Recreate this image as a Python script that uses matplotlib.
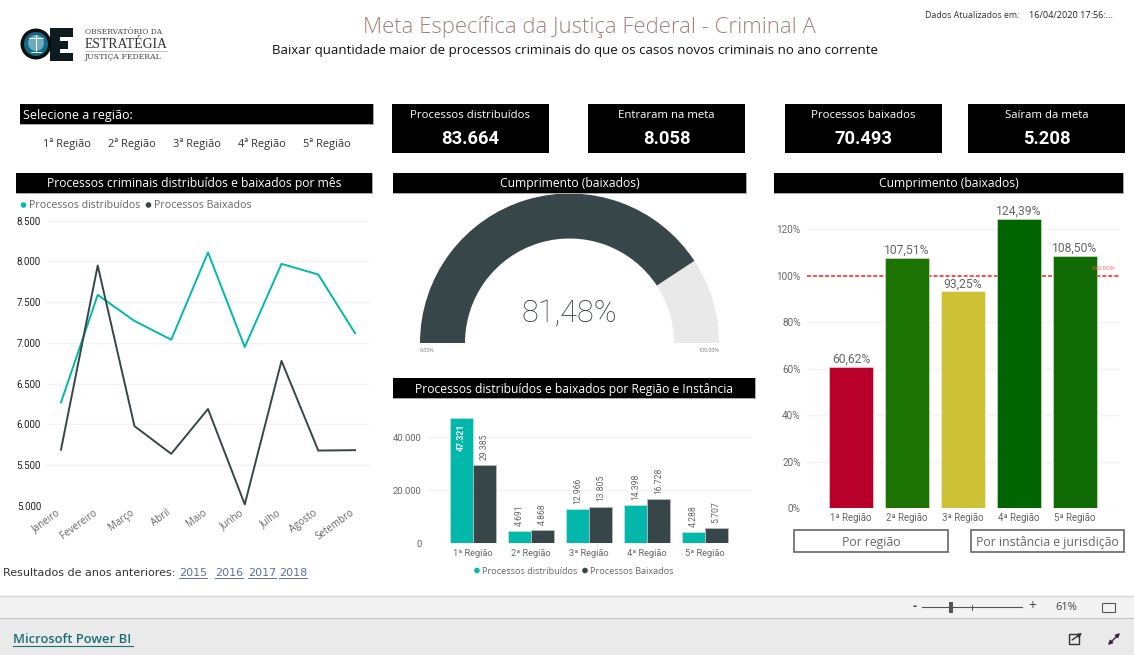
import matplotlib
matplotlib.use("Agg")
import matplotlib.pyplot as plt
from matplotlib.patches import Circle, Rectangle, Wedge, FancyArrowPatch
from matplotlib.transforms import ScaledTranslation

W, H = 1134, 655

# Data
meses = ["Janeiro", "Fevereiro", "Março", "Abril", "Maio", "Junho", "Julho", "Agosto", "Setembro"]
mes_distribuidos = [6270, 7590, 7270, 7040, 8110, 6950, 7970, 7840, 7120]
mes_baixados = [5690, 7950, 5980, 5640, 6190, 5020, 6780, 5680, 5685]

regioes = ["1ª Região", "2ª Região", "3ª Região", "4ª Região", "5ª Região"]
reg_distribuidos = [47321, 4691, 12966, 14398, 4288]
reg_baixados = [29385, 4868, 13805, 16728, 5707]

cumprimento = [60.62, 107.51, 93.25, 124.39, 108.50]
cumprimento_cores = ["#b8002a", "#1e7305", "#cdc235", "#006400", "#116b05"]
meta = 100

gauge_valor = 81.48

cards = [("Processos distribuídos", "83.664"), ("Entraram na meta", "8.058"),
         ("Processos baixados", "70.493"), ("Saíram da meta", "5.208")]
card_x = [(392, 549), (588, 745), (785, 942), (968, 1125)]

TEAL = "#01b8aa"
DARK = "#374649"
GREY = "#666666"
GRID = "#f2f2f2"
FONT = ["Open Sans", "DejaVu Sans"]
NARROW = ["Roboto", "DejaVu Sans"]
plt.rcParams["font.family"] = FONT


def ptbr(v):
    return f"{v:,.0f}".replace(",", ".")


def px_axes(left, top, right, bottom):
    # axes placed by reference pixels
    ax = fig.add_axes([left / W, 1 - bottom / H, (right - left) / W, (bottom - top) / H])
    ax.patch.set_alpha(0)
    for s in ax.spines.values():
        s.set_visible(False)
    return ax


fig = plt.figure(figsize=(W / 100, H / 100), dpi=100, facecolor="white")

# Line chart
ax1 = px_axes(47, 220.7, 369, 506)
ax1.plot(range(9), mes_distribuidos, color=TEAL, lw=1.4)
ax1.plot(range(9), mes_baixados, color=DARK, lw=1.4)
ax1.set_xlim(-0.38, 8.38)
ax1.set_ylim(5000, 8500)
ax1.set_yticks(range(5000, 8501, 500))
ax1.set_yticklabels([ptbr(v) for v in range(5000, 8501, 500)], fontsize=7, color="#222222", family=NARROW)
ax1.set_xticks(range(9))
ax1.set_xticklabels(meses, fontsize=7, color=GREY, rotation=36, ha="right", rotation_mode="anchor")
ax1.tick_params(length=0)
ax1.tick_params(axis="y", pad=4.3)
ax1.tick_params(axis="x", pad=1)
for lab in ax1.get_xticklabels():
    # labels end left of their month in the reference
    lab.set_transform(lab.get_transform() + ScaledTranslation(-0.05, 0, fig.dpi_scale_trans))
ax1.grid(axis="y", color=GRID, lw=1)
ax1.set_axisbelow(True)

# Gauge
ax2 = px_axes(419.5, 193, 719.5, 343)
ax2.set_xlim(-150, 150)
ax2.set_ylim(0, 150)
ax2.axis("off")
corte = 180 * (1 - gauge_valor / 100)
ax2.add_patch(Wedge((0, 0), 149.5, 0, corte, width=45, color="#e9e9e9", lw=0))
ax2.add_patch(Wedge((0, 0), 149.5, corte, 180, width=45, color=DARK, lw=0))
ax2.text(0, 30, f"{gauge_valor:.2f}%".replace(".", ","), fontsize=22, color="#2c383b", ha="center", va="center",
         family=NARROW, fontweight="light")

# Grouped bars
ax3 = px_axes(427, 410, 752, 543.3)
x = list(range(5))
larg = 0.39
ax3.bar([i - larg / 2 for i in x], reg_distribuidos, larg, color=TEAL, edgecolor="#b5e5e0", lw=0.6)
ax3.bar([i + larg / 2 for i in x], reg_baixados, larg, color=DARK, edgecolor="#b5bcbd", lw=0.6)
ax3.set_xlim(-0.793, 4.81)
ax3.set_ylim(0, 133.3 / 106 * 40000)
ax3.set_yticks([0, 20000, 40000])
ax3.set_yticklabels(["0", "20.000", "40.000"], fontsize=6.8, color=GREY, family=NARROW)
ax3.set_xticks(x)
ax3.set_xticklabels(regioes, fontsize=6.7, color=GREY, family=NARROW)
ax3.tick_params(length=0, pad=4)
ax3.grid(axis="y", color=GRID, lw=1)
ax3.set_axisbelow(True)
for i in x:
    d, b = reg_distribuidos[i], reg_baixados[i]
    if i == 0:
        ax3.text(i - larg / 2, d - 2300, ptbr(d), rotation=90, ha="center", va="top", fontsize=6.2,
                 color="white", fontweight="bold", family=NARROW)
    else:
        ax3.text(i - larg / 2, d + 2000, ptbr(d), rotation=90, ha="center", va="bottom", fontsize=6.2,
                 color=GREY, family=NARROW)
    ax3.text(i + larg / 2, b + 2000, ptbr(b), rotation=90, ha="center", va="bottom", fontsize=6.2,
             color=GREY, family=NARROW)

# Compliance bars
ax4 = px_axes(807, 205, 1120, 508.3)
ax4.bar(x, cumprimento, 0.777, color=cumprimento_cores, edgecolor="#ffffff80", lw=0.6)
ax4.set_xlim(-0.786, 4.804)
ax4.set_ylim(0, 303.3 / 2.325)
ax4.set_yticks(range(0, 121, 20))
ax4.set_yticklabels([f"{v}%" for v in range(0, 121, 20)], fontsize=7.2, color=GREY, family=NARROW)
ax4.set_xticks(x)
ax4.set_xticklabels(regioes, fontsize=6.9, color=GREY, family=NARROW)
ax4.tick_params(length=0, pad=3)
ax4.tick_params(axis="y", pad=4.5)
ax4.grid(axis="y", color=GRID, lw=1)
ax4.set_axisbelow(True)
ax4.axhline(meta, color="#fd4b4b", lw=1.4, ls=(0, (2, 1.1)), zorder=0.9)
ax4.text(4.71, meta + 2, "100,00%", fontsize=4.5, color="#f0605a", ha="right", va="bottom", zorder=5)
for i, v in zip(x, cumprimento):
    ax4.text(i, v + 0.5, f"{v:.2f}%".replace(".", ","), ha="center", va="bottom", fontsize=8.7, color=GREY,
             family=NARROW)

# Overlay in pixel coordinates: headers, cards, footer
ov = fig.add_axes([0, 0, 1, 1], zorder=10)
ov.set_xlim(0, W)
ov.set_ylim(H, 0)
ov.axis("off")
ov.patch.set_alpha(0)


def box(l, t, r, b, **kw):
    ov.add_patch(Rectangle((l, t), r - l, b - t, **kw))


def header(l, t, r, b, txt, left=False):
    box(l, t, r + 1, b + 1.2, color="#aaaaaa", lw=0)
    box(l, t, r, b, color="black", lw=0)
    if left:
        ov.text(l + 3, (t + b) / 2 + 1, txt, color="white", fontsize=9, va="center", ha="left")
    else:
        ov.text((l + r) / 2, (t + b) / 2 + 1, txt, color="white", fontsize=8.75, va="center", ha="center")


header(20, 104, 373, 124, "Selecione a região:", left=True)
header(16, 173, 372, 193, "Processos criminais distribuídos e baixados por mês")
header(393, 173, 746, 193, "Cumprimento (baixados)")
header(774, 173, 1123, 193, "Cumprimento (baixados)")
header(393, 378, 755, 398, "Processos distribuídos e baixados por Região e Instância")

for (l, r), (rot, val) in zip(card_x, cards):
    box(l, 104, r, 153, color="black", lw=0)
    ov.text((l + r) / 2, 115, rot, color="white", fontsize=8.2, ha="center", va="center")
    ov.text((l + r) / 2, 138.5, val, color="white", fontsize=13.2, ha="center", va="center", fontweight="bold",
            family=NARROW)

# Slicer
for cx, txt in zip([66.5, 132, 197, 261.5, 327], regioes):
    ov.text(cx, 144, txt, fontsize=7.9, color="#333333", ha="center", va="center")

# Titles
ov.text(589, 26.5, "Meta Específica da Justiça Federal - Criminal A", fontsize=15.9, color="#a5807c", ha="center",
        va="center", fontweight="light")
ov.text(575, 50.5, "Baixar quantidade maior de processos criminais do que os casos novos criminais no ano corrente",
        fontsize=9.5, color="#111111", ha="center", va="center")
ov.text(925, 15.5, "Dados Atualizados em:", fontsize=6.4, color="#333333", va="center")
ov.text(1029, 15.5, "16/04/2020 17:56:...", fontsize=6.6, color="#222222", va="center")

# Logo
box(50, 28, 73, 61, color="#0d1b1e", lw=0)
box(60, 36.5, 73, 41, color="white", lw=0)
box(60, 48.5, 73, 53, color="white", lw=0)
box(68, 41, 73, 48.5, color="white", lw=0)
ov.add_patch(Circle((36, 44), 15.5, color="#0b0f10", lw=0))
ov.add_patch(Circle((36, 44), 12, color="#136a86", lw=0))
ov.add_patch(Circle((36, 43), 8, color="#6ea9c0", lw=0))
ov.plot([29, 43], [38, 38], color="white", lw=0.7)
ov.plot([36, 36], [35, 52], color="white", lw=0.7)
ov.plot([31, 41], [52, 52], color="white", lw=0.7)
ov.text(85, 32.5, "OBSERVATÓRIO DA", fontsize=5.4, color="#444444", family=["DejaVu Serif"], va="center")
ov.text(85, 44.5, "ESTRATÉGIA", fontsize=9.9, color="#333333", family=["Liberation Serif"], va="center")
ov.plot([85, 167], [50.5, 50.5], color="#aaaaaa", lw=0.5)
ov.text(85, 57, "JUSTIÇA FEDERAL", fontsize=5.6, color="#444444", family=["DejaVu Serif"], va="center")

# Legends
ov.add_patch(Circle((23.5, 205), 2.8, color=TEAL, lw=0))
ov.text(29, 206, "Processos distribuídos", fontsize=7.65, color=GREY, va="center")
ov.add_patch(Circle((148.5, 205), 2.8, color=DARK, lw=0))
ov.text(154, 206, "Processos Baixados", fontsize=7.65, color=GREY, va="center")
ov.add_patch(Circle((477, 570.5), 2.8, color=TEAL, lw=0))
ov.text(482, 571.5, "Processos distribuídos", fontsize=6.55, color=GREY, va="center")
ov.add_patch(Circle((585, 570.5), 2.8, color=DARK, lw=0))
ov.text(590, 571.5, "Processos Baixados", fontsize=6.55, color=GREY, va="center")

# Gauge limits
ov.text(420, 350, "0,00%", fontsize=3.8, color="#777777", va="center")
ov.text(719, 350, "100,00%", fontsize=3.8, color="#777777", va="center", ha="right")

# Previous years links
ov.text(3, 573, "Resultados de anos anteriores:", fontsize=8, color="#333333", va="center",
        family=["DejaVu Sans"])
for lx, ano in zip([179, 215, 248, 279], ["2015", "2016", "2017", "2018"]):
    ov.text(lx, 573, ano, fontsize=8, color="#5a6fb0", va="center", family=["DejaVu Sans"])
    ov.plot([lx, lx + 28], [578, 578], color="#5a6fb0", lw=0.7)

# Buttons
for l, r, txt in [(794, 948, "Por região"), (970.5, 1124, "Por instância e jurisdição")]:
    box(l, 530, r, 552, facecolor="white", edgecolor="#666666", lw=1.2)
    ov.text((l + r) / 2, 542.5, txt, fontsize=8.8, color=GREY, ha="center", va="center")

# Footer
box(0, 596, W, 618, facecolor="#f3f3f3", edgecolor="none")
box(0, 618, W, H, facecolor="#eaeaea", edgecolor="none")
ov.plot([0, W], [596, 596], color="#d8d8d8", lw=1)
ov.plot([0, W], [618, 618], color="#c8c8c8", lw=1)
ov.text(915, 606.5, "-", fontsize=9, color="#444444", ha="center", va="center", fontweight="bold")
ov.plot([922, 1022], [607, 607], color="#555555", lw=0.8)
ov.plot([972, 972], [604.5, 609.5], color="#555555", lw=0.7)
box(949, 602, 953, 613, color="#555555", lw=0)
ov.text(1032, 606.5, "+", fontsize=10, color="#444444", ha="center", va="center")
ov.text(1066, 607.5, "61%", fontsize=8, color="#444444", ha="center", va="center")
box(1102, 602.5, 1115, 612, facecolor="none", edgecolor="#555555", lw=0.8)
ov.text(13, 639.5, "Microsoft Power BI", fontsize=9.4, color="#1c6e74", va="center", fontweight="semibold")
ov.plot([13, 133], [646, 646], color="#1c6e74", lw=0.8)
box(1069, 634, 1079, 644, facecolor="none", edgecolor="#333333", lw=1)
ov.add_patch(FancyArrowPatch((1072, 640), (1082, 633), arrowstyle="-|>", mutation_scale=6, color="#333333", lw=1,
                             shrinkA=0, shrinkB=0))
ov.add_patch(FancyArrowPatch((1108, 645), (1120, 633), arrowstyle="<|-|>", mutation_scale=6, color="#3a2040", lw=1,
                             shrinkA=0, shrinkB=0))

fig.savefig("out.png", dpi=100)
